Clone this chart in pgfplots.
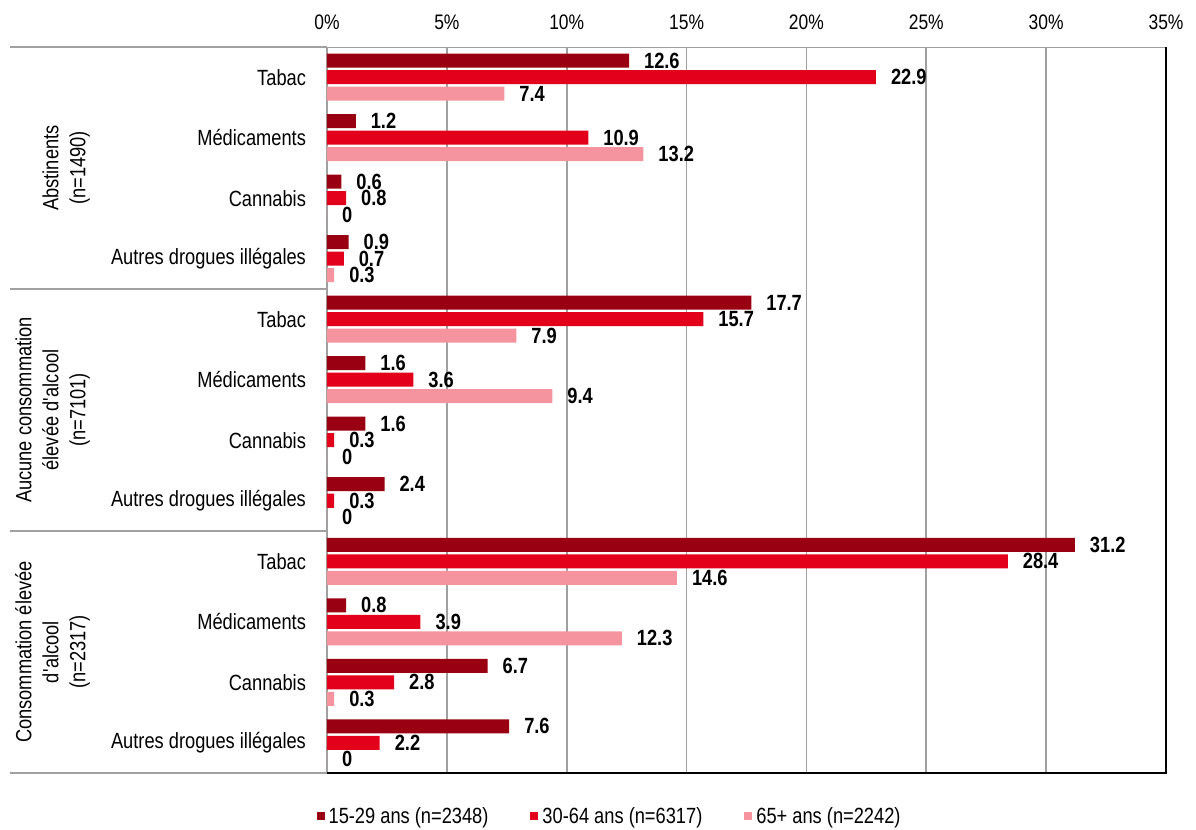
\documentclass[border=0pt]{standalone}
\usepackage{pgfplots}
\pgfplotsset{compat=1.18}
\usepackage{fontspec}
\setmainfont{Liberation Sans}[FakeStretch=0.83]
\definecolor{cA}{RGB}{153,0,17}
\definecolor{cB}{RGB}{227,0,27}
\definecolor{cC}{RGB}{245,147,159}
\definecolor{gridc}{RGB}{160,160,160}
\begin{document}
\begin{tikzpicture}
\begin{axis}[
  name=ax,
  scale only axis,
  width=419.5pt, height=363pt,
  xmin=0, xmax=35, ymin=-0.5, ymax=11.5,
  xbar,
  bar width=7pt,
  legend image code/.code={\fill[#1] (0pt,-1.5pt) rectangle (4pt,2.5pt);},
  clip=false,
  axis line style={draw=gridc},
  xtick={0,5,...,35},
  xticklabel pos=upper,
  xticklabel={\pgfmathprintnumber[assume math mode=true]{\tick}\%},
  xticklabel style={font=\fontsize{10.5}{12}\selectfont, yshift=5pt},
  xmajorgrids, grid style={gridc, line width=0.8pt},
  ytick={0,...,11},
  yticklabels={Autres drogues illégales,Cannabis,Médicaments,Tabac,Autres drogues illégales,Cannabis,Médicaments,Tabac,Autres drogues illégales,Cannabis,Médicaments,Tabac},
  yticklabel style={font=\fontsize{11}{13}\selectfont, anchor=east, xshift=-7pt},
  major tick length=0pt,
  nodes near coords={\pgfmathprintnumber[assume math mode=true]{\pgfplotspointmeta}},
  nodes near coords style={font=\fontsize{11}{13}\selectfont\bfseries, anchor=west, xshift=4pt, text=black},
  legend style={at={(0.338,-0.0606)}, anchor=center, draw=none, fill=none,
    legend columns=3, font=\fontsize{11}{13}\selectfont,
    /tikz/every even column/.append style={column sep=19pt},
    legend cell align=left},
]
\addplot[fill=cA, draw=none, bar shift=8.25pt] coordinates {
(12.6,11) (1.2,10) (0.6,9) (0.9,8) (17.7,7) (1.6,6) (1.6,5) (2.4,4) (31.2,3) (0.8,2) (6.7,1) (7.6,0)};
\addplot[fill=cB, draw=none, bar shift=0pt] coordinates {
(22.9,11) (10.9,10) (0.8,9) (0.7,8) (15.7,7) (3.6,6) (0.3,5) (0.3,4) (28.4,3) (3.9,2) (2.8,1) (2.2,0)};
\addplot[fill=cC, draw=none, bar shift=-8.25pt] coordinates {
(7.4,11) (13.2,10) (0,9) (0.3,8) (7.9,7) (9.4,6) (0,5) (0,4) (14.6,3) (12.3,2) (0.3,1) (0,0)};
\legend{15-29 ans (n=2348),30-64 ans (n=6317),65+ ans (n=2242)}
\draw[black, line width=0.8pt] (rel axis cs:0,0) -- (rel axis cs:1,0) -- (rel axis cs:1,1);
\draw[gridc, line width=0.8pt] ([xshift=-158.5pt]axis cs:0,11.5) -- (axis cs:0,11.5);
\draw[gridc, line width=0.8pt] ([xshift=-158.5pt]axis cs:0,7.5) -- (axis cs:0,7.5);
\draw[gridc, line width=0.8pt] ([xshift=-158.5pt]axis cs:0,3.5) -- (axis cs:0,3.5);
\draw[gridc, line width=0.8pt] ([xshift=-158.5pt]axis cs:0,-0.5) -- (axis cs:0,-0.5);
\node[rotate=90, anchor=south, align=center, font=\fontsize{11}{13.5}\selectfont]
  at ([xshift=-115pt]axis cs:0,9.5) {Abstinents\\(n=1490)};
\node[rotate=90, anchor=south, align=center, font=\fontsize{11}{13.5}\selectfont]
  at ([xshift=-115pt]axis cs:0,5.5) {Aucune consommation\\élevée d\textquotesingle alcool\\(n=7101)};
\node[rotate=90, anchor=south, align=center, font=\fontsize{11}{13.5}\selectfont]
  at ([xshift=-115pt]axis cs:0,1.5) {Consommation élevée\\d\textquotesingle alcool\\(n=2317)};
\end{axis}
\pgfresetboundingbox
\useasboundingbox ([xshift=-163.5pt,yshift=-28pt]ax.south west) rectangle ([xshift=15pt,yshift=23.5pt]ax.north east);
\end{tikzpicture}
\end{document}
